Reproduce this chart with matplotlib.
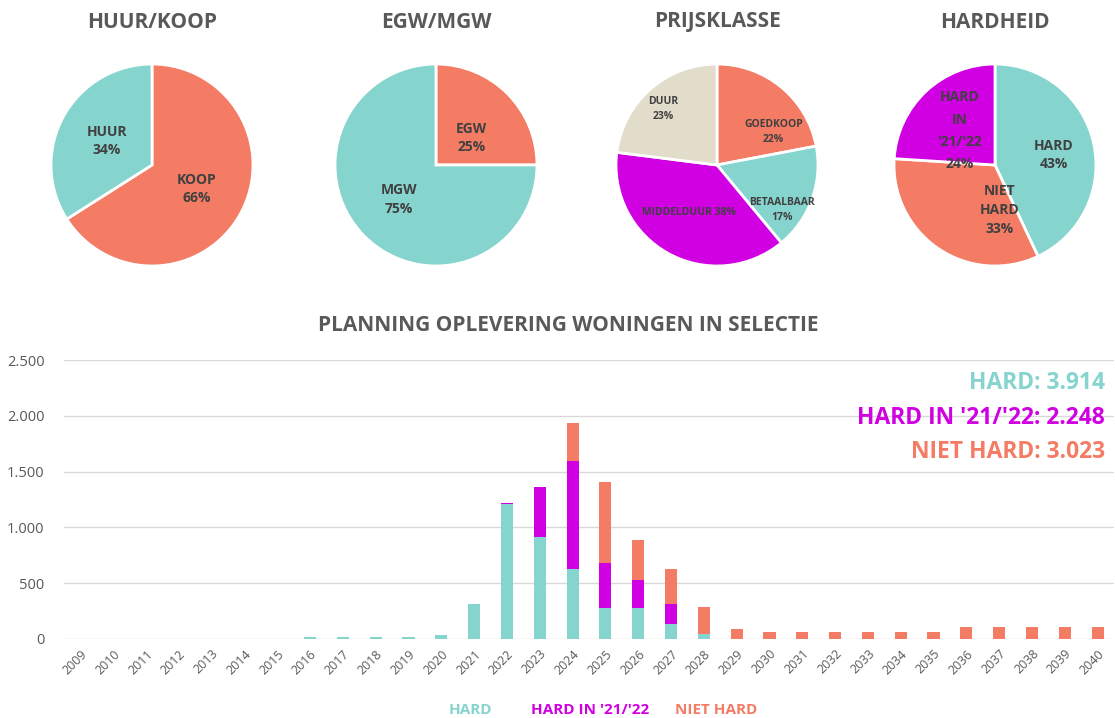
import matplotlib
matplotlib.use("Agg")
import matplotlib.pyplot as plt
import numpy as np
from matplotlib.ticker import FuncFormatter

plt.rcParams['font.family'] = ['Open Sans', 'DejaVu Sans']

TEAL = '#86D4CE'
SALMON = '#F47B64'
MAGENTA = '#D000E2'
BEIGE = '#E2DCCB'
TXT = '#404040'
TITLE = '#595959'

# ---- pie data ----
huurkoop_labels = ['KOOP', 'HUUR']
huurkoop_values = [66, 34]
egw_labels = ['EGW', 'MGW']
egw_values = [25, 75]
prijs_labels = ['GOEDKOOP', 'BETAALBAAR', 'MIDDELDUUR', 'DUUR']
prijs_values = [22, 17, 38, 23]
hard_labels = ['HARD', 'NIET\nHARD', "HARD\nIN\n'21/'22"]
hard_values = [43, 33, 24]

# ---- bar data ----
years = [str(y) for y in range(2009, 2041)]
hard = [0, 0, 0, 0, 0, 0, 0, 15, 15, 15, 15, 40, 315, 1206, 915, 627, 279, 279, 132, 48,
        0, 0, 0, 0, 0, 0, 0, 0, 0, 0, 0, 0]
hard_in = [0, 0, 0, 0, 0, 0, 0, 0, 0, 0, 0, 0, 0, 12, 450, 965, 400, 249, 180, 0,
           0, 0, 0, 0, 0, 0, 0, 0, 0, 0, 0, 0]
niet_hard = [0, 0, 0, 0, 0, 0, 0, 0, 0, 0, 0, 0, 0, 0, 0, 342, 726, 363, 315, 243,
             87, 60, 60, 60, 60, 60, 60, 111, 111, 111, 111, 111]
totals_text = ["HARD: 3.914", "HARD IN '21/'22: 2.248", "NIET HARD: 3.023"]

W, H = 1115, 718
fig = plt.figure(figsize=(W / 100, H / 100), dpi=100)


def pix_axes(x0, y0, x1, y1):
    return fig.add_axes([x0 / W, 1 - y1 / H, (x1 - x0) / W, (y1 - y0) / H])


def pie_axes(cx, title):
    r = 103
    ax = pix_axes(cx - r, 165 - r, cx + r, 165 + r)
    ax.set_aspect('equal')
    fig.text(cx / W, 1 - 22 / H, title, ha='center', va='center',
             fontsize=15, fontweight='bold', color=TITLE)
    return ax


def finish(ax):
    ax.set_xlim(-1.02, 1.02)
    ax.set_ylim(-1.02, 1.02)


def draw_pie(cx, title, values, labels, colors, label_pos, fs):
    ax = pie_axes(cx, title)
    ax.pie(values, colors=colors, startangle=90, counterclock=False,
           wedgeprops=dict(edgecolor='white', linewidth=2), radius=1.0)
    finish(ax)
    for (lx, ly), lab, v in zip(label_pos, labels, values):
        ax.text(lx, ly, f"{lab}\n{v}%", ha='center', va='center', fontsize=fs,
                fontweight='bold', color=TXT, linespacing=1.4)


draw_pie(152, 'HUUR/KOOP', huurkoop_values, huurkoop_labels, [SALMON, TEAL],
         [(0.44, -0.24), (-0.45, 0.24)], 10)
draw_pie(436, 'EGW/MGW', egw_values, egw_labels, [SALMON, TEAL],
         [(0.35, 0.27), (-0.37, -0.34)], 10)

# prijsklasse pie (custom label layout)
ax = pie_axes(717, 'PRIJSKLASSE')
ax.pie(prijs_values, colors=[SALMON, TEAL, MAGENTA, BEIGE], startangle=90, counterclock=False,
       wedgeprops=dict(edgecolor='white', linewidth=2))
finish(ax)
plab = [(0.56, 0.33, f"{prijs_labels[0]}\n{prijs_values[0]}%"),
        (0.64, -0.45, f"{prijs_labels[1]}\n{prijs_values[1]}%"),
        (-0.28, -0.47, f"{prijs_labels[2]} {prijs_values[2]}%"),
        (-0.53, 0.55, f"{prijs_labels[3]}\n{prijs_values[3]}%")]
for lx, ly, t in plab:
    ax.text(lx, ly, t, ha='center', va='center', fontsize=7.5, fontweight='bold',
            color=TXT, linespacing=1.5)

# hardheid pie
ax = pie_axes(995, 'HARDHEID')
ax.pie(hard_values, colors=[TEAL, SALMON, MAGENTA], startangle=90, counterclock=False,
       wedgeprops=dict(edgecolor='white', linewidth=2))
finish(ax)
hpos = [(0.58, 0.1, 1.4), (0.05, -0.45, 1.45), (-0.35, 0.34, 1.75)]
for (lx, ly, ls), lab, v in zip(hpos, hard_labels, hard_values):
    ax.text(lx, ly, f"{lab}\n{v}%", ha='center', va='center', fontsize=10,
            fontweight='bold', color=TXT, linespacing=ls)

# ---- stacked bar chart ----
bx = pix_axes(64, 360, 1114, 639)
x = np.arange(len(years))
bw = 0.37
hard_a = np.array(hard)
hin_a = np.array(hard_in)
nh_a = np.array(niet_hard)
bx.bar(x, hard_a, bw, color=TEAL, zorder=3)
bx.bar(x, hin_a, bw, bottom=hard_a, color=MAGENTA, zorder=3)
bx.bar(x, nh_a, bw, bottom=hard_a + hin_a, color=SALMON, zorder=3)
bx.set_xlim(-0.5, len(years) - 0.5)
bx.set_ylim(0, 2500)
bx.set_yticks([0, 500, 1000, 1500, 2000, 2500])
bx.yaxis.set_major_formatter(FuncFormatter(lambda v, p: f"{int(v):,}".replace(',', '.')))
bx.grid(axis='y', color='#D9D9D9', linewidth=1, zorder=0)
for s in bx.spines.values():
    s.set_visible(False)
bx.tick_params(axis='both', length=0, colors='#595959')
bx.tick_params(axis='y', labelsize=10.5, pad=14)
bx.set_xticks(x)
bx.set_xticklabels(years, rotation=45, ha='right', rotation_mode='anchor',
                   fontsize=9, color='#595959')
bx.tick_params(axis='x', pad=6)

fig.text(568 / W, 1 - 325 / H, 'PLANNING OPLEVERING WONINGEN IN SELECTIE', ha='center',
         va='center', fontsize=15, fontweight='bold', color=TITLE)

for t, c, yy in zip(totals_text, [TEAL, MAGENTA, SALMON], [383, 418, 452]):
    fig.text(1105 / W, 1 - yy / H, t, ha='right', va='center', fontsize=16.5,
             fontweight='bold', color=c)

for t, c, xx in zip(['HARD', "HARD IN '21/'22", 'NIET HARD'], [TEAL, MAGENTA, SALMON],
                    [470, 590, 716]):
    fig.text(xx / W, 1 - 710 / H, t, ha='center', va='center', fontsize=11,
             fontweight='bold', color=c)

fig.savefig('out.png', dpi=100, facecolor='white')
